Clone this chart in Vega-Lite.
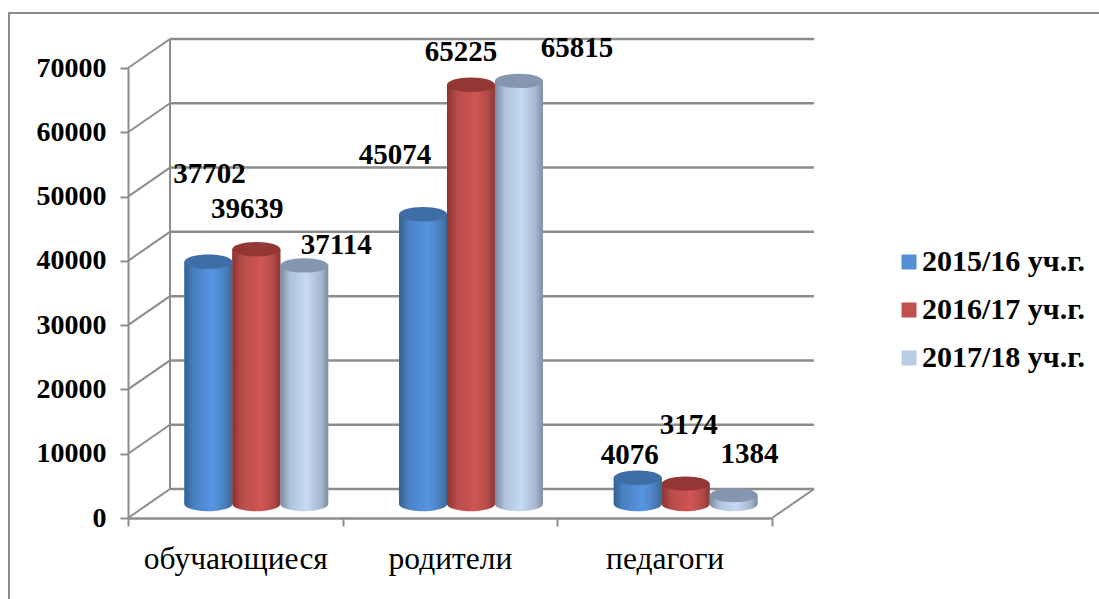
{
"$schema":"https://vega.github.io/schema/vega-lite/v6.json",
"autosize":{"type":"none"},
"padding":{"left":9,"top":13,"right":0,"bottom":0},
"width":1100,"height":600,
"background":"white",
"config":{"view":{"stroke":"#8C8C8C","strokeWidth":2},"font":"Liberation Serif"},
"datasets":{
"ticks":[{"v":0},{"v":10000},{"v":20000},{"v":30000},{"v":40000},{"v":50000},{"v":60000},{"v":70000}],
"rows":[
{"cat":"обучающиеся","year":"2015/16 уч.г.","value":37702},
{"cat":"обучающиеся","year":"2016/17 уч.г.","value":39639},
{"cat":"обучающиеся","year":"2017/18 уч.г.","value":37114},
{"cat":"родители","year":"2015/16 уч.г.","value":45074},
{"cat":"родители","year":"2016/17 уч.г.","value":65225},
{"cat":"родители","year":"2017/18 уч.г.","value":65815},
{"cat":"педагоги","year":"2015/16 уч.г.","value":4076},
{"cat":"педагоги","year":"2016/17 уч.г.","value":3174},
{"cat":"педагоги","year":"2017/18 уч.г.","value":1384}
]},
"resolve":{"scale":{"x":"independent","y":"independent"},"axis":{"x":"independent","y":"independent"}},
"layer":[
{"data":{"name":"ticks"},
 "encoding":{
  "y":{"field":"v","type":"quantitative","scale":{"domain":[0,70000],"range":[505,55]},
   "axis":{"title":null,"format":"d","values":[0,10000,20000,30000,40000,50000,60000,70000],"grid":false,"offset":-119,"domainColor":"#8C8C8C","domainWidth":2,"tickColor":"#8C8C8C","tickWidth":2,"tickSize":8,"labelFont":"Liberation Serif","labelFontWeight":"bold","labelFontSize":28,"labelColor":"black","labelPadding":14}},
  "x":{"datum":0,"type":"quantitative","scale":{"domain":[0,1],"range":[119,763]},"axis":null}
 },
 "layer":[
  {"mark":{"type":"rule","color":"#8C8C8C","strokeWidth":2.5,"xOffset":42,"x2Offset":42,"yOffset":-29,"y2Offset":-29},"encoding":{"x2":{"datum":1}}},
  {"mark":{"type":"rule","color":"#8C8C8C","strokeWidth":2,"x2Offset":42,"y2Offset":-29},"encoding":{"x2":{"datum":0},"y2":{"field":"v"}}},
  {"transform":[{"filter":"datum.v==0"}],"mark":{"type":"rule","color":"#8C8C8C","strokeWidth":2,"x2Offset":42,"y2Offset":-29},"encoding":{"x":{"datum":1,"type":"quantitative","scale":{"domain":[0,1],"range":[119,763]},"axis":null},"x2":{"datum":1},"y2":{"field":"v"}}},
  {"transform":[{"filter":"datum.v==0"}],"mark":{"type":"rule","color":"#8C8C8C","strokeWidth":2,"xOffset":42,"x2Offset":42,"yOffset":-29,"y2Offset":-29},"encoding":{"x2":{"datum":0},"y2":{"datum":70000}}}
 ]},
{"data":{"name":"rows"},
 "mark":{"type":"point","opacity":0},
 "encoding":{
  "x":{"field":"cat","type":"nominal","sort":["обучающиеся","родители","педагоги"],"scale":{"range":[119,763],"paddingInner":0,"paddingOuter":0},
   "axis":{"title":null,"orient":"bottom","offset":-95,"labelAngle":0,"labelLimit":0,"tickBand":"extent","domainColor":"#8C8C8C","domainWidth":2.5,"tickColor":"#8C8C8C","tickWidth":2,"tickSize":8,"labelFont":"Liberation Serif","labelFontSize":31.5,"labelFontWeight":"normal","labelColor":"black","labelPadding":17}}
 }},
{"data":{"name":"rows"},
 "encoding":{
  "x":{"field":"cat","type":"nominal","sort":["обучающиеся","родители","педагоги"],"scale":{"range":[140,784],"paddingInner":0.33,"paddingOuter":0.165},"axis":null},
  "xOffset":{"field":"year","type":"nominal"},
  "y":{"field":"value","type":"quantitative","stack":null,"scale":{"domain":[0,70000],"range":[491,41]},"axis":null}
 },
 "layer":[
  {"mark":{"type":"bar"},
   "encoding":{"color":{"field":"year","type":"nominal","scale":{"range":["#558ED5","#C0504D","#B9CDE5"]},
    "legend":{"orient":"none","legendX":885,"legendY":234,"title":null,"symbolType":"square","symbolSize":225,"symbolStrokeWidth":0,"labelFont":"Liberation Serif","labelFontWeight":"bold","labelFontSize":30,"labelColor":"black","labelLimit":0,"rowPadding":18,"labelOffset":-2}}}},
  {"transform":[{"filter":"datum.year=='2015/16 уч.г.'"}],"layer":[
   {"mark":{"type":"point","filled":true,"size":2304,"opacity":1,"shape":"M-1 0A1 0.3 0 1 1 1 0A1 0.3 0 1 1 -1 0Z","fill":{"gradient":"linear","x1":0,"x2":1,"y1":0,"y2":0,"stops":[{"offset":0,"color":"#33628F"},{"offset":0.2,"color":"#4A80C4"},{"offset":0.6,"color":"#5795E2"},{"offset":0.85,"color":"#4A7FBE"},{"offset":1,"color":"#3A6797"}]}},"encoding":{"y":{"datum":0,"type":"quantitative"}}},
   {"mark":{"type":"bar","fill":{"gradient":"linear","x1":0,"x2":1,"y1":0,"y2":0,"stops":[{"offset":0,"color":"#33628F"},{"offset":0.2,"color":"#4A80C4"},{"offset":0.6,"color":"#5795E2"},{"offset":0.85,"color":"#4A7FBE"},{"offset":1,"color":"#3A6797"}]}}},
   {"mark":{"type":"point","filled":true,"size":2304,"opacity":1,"shape":"M-1 0A1 0.3 0 1 1 1 0A1 0.3 0 1 1 -1 0Z","fill":"#3F6DA6"}}
  ]},
  {"transform":[{"filter":"datum.year=='2016/17 уч.г.'"}],"layer":[
   {"mark":{"type":"point","filled":true,"size":2304,"opacity":1,"shape":"M-1 0A1 0.3 0 1 1 1 0A1 0.3 0 1 1 -1 0Z","fill":{"gradient":"linear","x1":0,"x2":1,"y1":0,"y2":0,"stops":[{"offset":0,"color":"#8A3432"},{"offset":0.2,"color":"#B84C4A"},{"offset":0.6,"color":"#CF5654"},{"offset":0.85,"color":"#B34B49"},{"offset":1,"color":"#8C3836"}]}},"encoding":{"y":{"datum":0,"type":"quantitative"}}},
   {"mark":{"type":"bar","fill":{"gradient":"linear","x1":0,"x2":1,"y1":0,"y2":0,"stops":[{"offset":0,"color":"#8A3432"},{"offset":0.2,"color":"#B84C4A"},{"offset":0.6,"color":"#CF5654"},{"offset":0.85,"color":"#B34B49"},{"offset":1,"color":"#8C3836"}]}}},
   {"mark":{"type":"point","filled":true,"size":2304,"opacity":1,"shape":"M-1 0A1 0.3 0 1 1 1 0A1 0.3 0 1 1 -1 0Z","fill":"#943634"}}
  ]},
  {"transform":[{"filter":"datum.year=='2017/18 уч.г.'"}],"layer":[
   {"mark":{"type":"point","filled":true,"size":2304,"opacity":1,"shape":"M-1 0A1 0.3 0 1 1 1 0A1 0.3 0 1 1 -1 0Z","fill":{"gradient":"linear","x1":0,"x2":1,"y1":0,"y2":0,"stops":[{"offset":0,"color":"#7A8A9E"},{"offset":0.2,"color":"#AEC2DA"},{"offset":0.55,"color":"#C6DAF3"},{"offset":0.85,"color":"#A5B7CE"},{"offset":1,"color":"#7E8EA3"}]}},"encoding":{"y":{"datum":0,"type":"quantitative"}}},
   {"mark":{"type":"bar","fill":{"gradient":"linear","x1":0,"x2":1,"y1":0,"y2":0,"stops":[{"offset":0,"color":"#7A8A9E"},{"offset":0.2,"color":"#AEC2DA"},{"offset":0.55,"color":"#C6DAF3"},{"offset":0.85,"color":"#A5B7CE"},{"offset":1,"color":"#7E8EA3"}]}}},
   {"mark":{"type":"point","filled":true,"size":2304,"opacity":1,"shape":"M-1 0A1 0.3 0 1 1 1 0A1 0.3 0 1 1 -1 0Z","fill":"#8597B0"}}
  ]},
  {"encoding":{"text":{"field":"value","type":"quantitative","format":"d"}},
   "layer":[
   {"transform":[{"filter":"datum.value==37702"}],"mark":{"type":"text","dx":1,"dy":-88,"font":"Liberation Serif","fontWeight":"bold","fontSize":29,"color":"black","baseline":"middle"}},
   {"transform":[{"filter":"datum.value==39639"}],"mark":{"type":"text","dx":-9,"dy":-40,"font":"Liberation Serif","fontWeight":"bold","fontSize":29,"color":"black","baseline":"middle"}},
   {"transform":[{"filter":"datum.value==37114"}],"mark":{"type":"text","dx":32,"dy":-20,"font":"Liberation Serif","fontWeight":"bold","fontSize":29,"color":"black","baseline":"middle"}},
   {"transform":[{"filter":"datum.value==45074"}],"mark":{"type":"text","dx":-28,"dy":-59,"font":"Liberation Serif","fontWeight":"bold","fontSize":29,"color":"black","baseline":"middle"}},
   {"transform":[{"filter":"datum.value==65225"}],"mark":{"type":"text","dx":-10,"dy":-33,"font":"Liberation Serif","fontWeight":"bold","fontSize":29,"color":"black","baseline":"middle"}},
   {"transform":[{"filter":"datum.value==65815"}],"mark":{"type":"text","dx":58,"dy":-33,"font":"Liberation Serif","fontWeight":"bold","fontSize":29,"color":"black","baseline":"middle"}},
   {"transform":[{"filter":"datum.value==4076"}],"mark":{"type":"text","dx":-8,"dy":-23,"font":"Liberation Serif","fontWeight":"bold","fontSize":29,"color":"black","baseline":"middle"}},
   {"transform":[{"filter":"datum.value==3174"}],"mark":{"type":"text","dx":3,"dy":-59,"font":"Liberation Serif","fontWeight":"bold","fontSize":29,"color":"black","baseline":"middle"}},
   {"transform":[{"filter":"datum.value==1384"}],"mark":{"type":"text","dx":16,"dy":-41,"font":"Liberation Serif","fontWeight":"bold","fontSize":29,"color":"black","baseline":"middle"}}
  ]}
 ]}
]}
